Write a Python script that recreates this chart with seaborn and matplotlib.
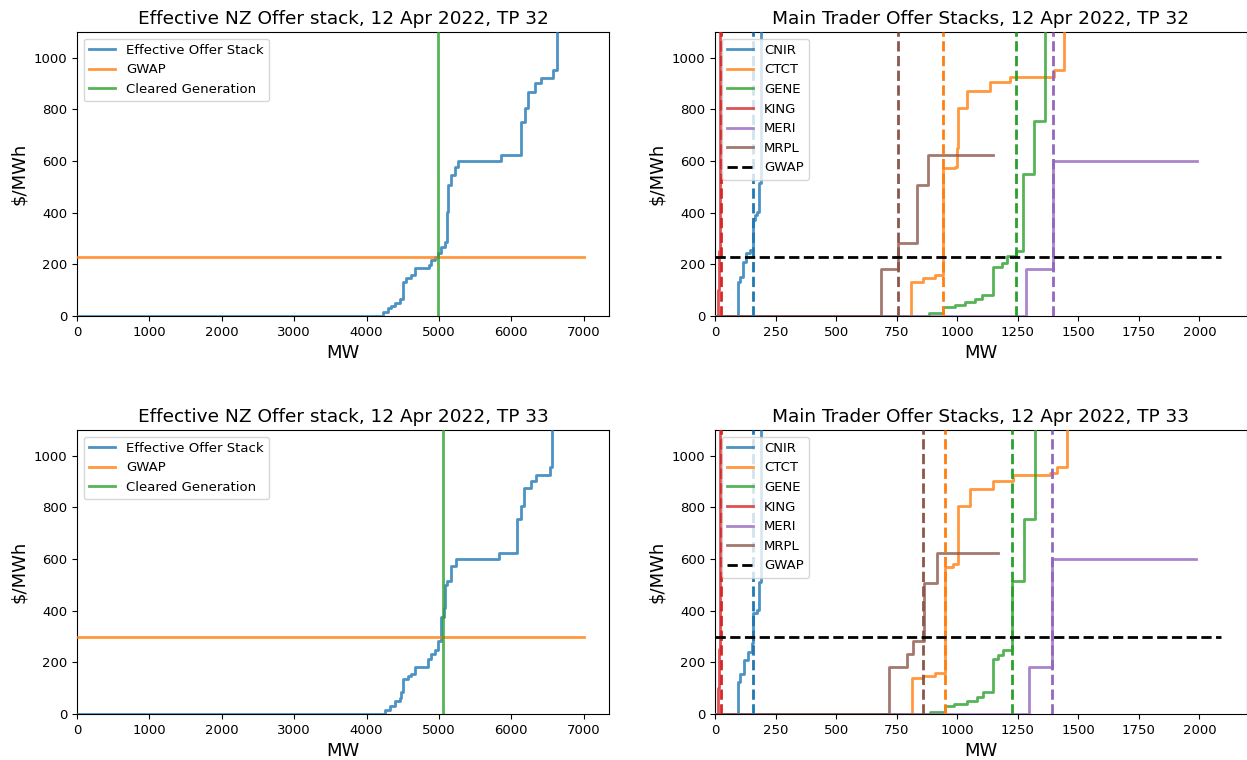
import matplotlib
matplotlib.use("Agg")
import matplotlib.pyplot as plt
import seaborn as sns
import pandas as pd

plt.rcParams['font.family'] = ['DejaVu Sans']

# ---------------- data ----------------
tp_labels = ["TP 32", "TP 33"]
date_label = "12 Apr 2022"

# effective NZ offer stack (cumulative MW where price steps, new price $/MWh)
eff32_mw = [0, 4229, 4298, 4345, 4400, 4459, 4505, 4552, 4621, 4667, 4865, 4897, 4943, 4989,
            5035, 5081, 5113, 5127, 5173, 5219, 5265, 5863, 6139, 6185, 6231, 6323, 6415, 6576, 6631]
eff32_price = [0, 15, 30, 40, 52, 65, 133, 146, 159, 185, 198, 215, 230, 243,
               269, 288, 404, 508, 547, 579, 600, 625, 753, 805, 869, 901, 921, 953, 3000]
eff33_mw = [0, 4252, 4321, 4390, 4460, 4483, 4505, 4575, 4621, 4676, 4851, 4887, 4943, 4989,
            5035, 5067, 5081, 5113, 5173, 5233, 5831, 6084, 6139, 6172, 6277, 6346, 6531, 6567]
eff33_price = [0, 15, 31, 50, 61, 87, 134, 147, 155, 181, 212, 231, 248, 284,
               377, 411, 500, 515, 574, 600, 625, 755, 806, 875, 903, 926, 955, 3000]

gwap = [230, 297]
cleared_gen = [4990, 5050]
gwap_span_nz = [0, 7000]
gwap_span_traders = [0, 2090]

traders = ["CNIR", "CTCT", "GENE", "KING", "MERI", "MRPL"]

# TP 32 trader stacks
cnir32_mw = [0, 94, 103, 117, 130, 144, 156, 166, 175, 183, 190]
cnir32_price = [0, 133, 152, 210, 243, 256, 372, 391, 404, 514, 3000]
ctct32_mw = [0, 808, 857, 909, 940, 991, 998, 1005, 1042, 1136, 1218, 1399, 1441]
ctct32_price = [0, 133, 148, 159, 572, 579, 650, 805, 873, 905, 924, 953, 3000]
gene32_mw = [0, 885, 940, 991, 1032, 1073, 1101, 1147, 1187, 1204, 1243, 1270, 1317, 1363]
gene32_price = [0, 10, 34, 43, 56, 64, 81, 189, 207, 232, 253, 550, 757, 3000]
king32_mw = [0, 12, 16, 20]
king32_price = [0, 100, 250, 3000]
meri32_mw = [0, 1284, 1397, 1990]
meri32_price = [0, 181, 600, 600]
mrpl32_mw = [0, 686, 757, 833, 881, 1149]
mrpl32_price = [0, 181, 284, 508, 625, 625]
cleared32 = [156, 940, 1243, 24, 1397, 757]

# TP 33 trader stacks
cnir33_mw = [0, 94, 103, 120, 138, 151, 158, 172, 183, 190]
cnir33_price = [0, 125, 155, 209, 242, 276, 390, 404, 513, 3000]
ctct33_mw = [0, 815, 857, 908, 950, 984, 1005, 1052, 1147, 1229, 1383, 1411, 1455]
ctct33_price = [0, 138, 147, 158, 571, 581, 806, 872, 903, 924, 933, 955, 3000]
gene33_mw = [0, 888, 950, 987, 1039, 1080, 1108, 1147, 1167, 1190, 1225, 1276, 1321]
gene33_price = [0, 8, 31, 39, 50, 64, 86, 212, 229, 248, 517, 756, 3000]
king33_mw = [0, 12, 16, 20]
king33_price = [0, 100, 250, 3000]
meri33_mw = [0, 1296, 1390, 1985]
meri33_price = [0, 181, 600, 600]
mrpl33_mw = [0, 718, 791, 819, 862, 915, 1170]
mrpl33_price = [0, 181, 232, 284, 506, 625, 625]
cleared33 = [158, 950, 1227, 24, 1390, 857]

eff = [(eff32_mw, eff32_price), (eff33_mw, eff33_price)]
stacks = [
    [(cnir32_mw, cnir32_price), (ctct32_mw, ctct32_price), (gene32_mw, gene32_price),
     (king32_mw, king32_price), (meri32_mw, meri32_price), (mrpl32_mw, mrpl32_price)],
    [(cnir33_mw, cnir33_price), (ctct33_mw, ctct33_price), (gene33_mw, gene33_price),
     (king33_mw, king33_price), (meri33_mw, meri33_price), (mrpl33_mw, mrpl33_price)],
]
cleared = [cleared32, cleared33]

# ---------------- plot ----------------
pal = sns.color_palette("tab10")
W, H = 1247, 760
fig = plt.figure(figsize=(W / 100, H / 100), dpi=100)

def px_axes(x0, y0, x1, y1):
    return fig.add_axes([x0 / W, 1 - y1 / H, (x1 - x0) / W, (y1 - y0) / H])

rows = [(32, 316), (430, 714)]
TITLE_FS = 13.3
LABEL_FS = 13
TICK_FS = 9.5
LEG_FS = 9.5

def finish(ax):
    for sp in ax.spines.values():
        sp.set_zorder(1)

for r, (ya, yb) in enumerate(rows):
    # left: effective stack
    ax = px_axes(77, ya, 609, yb)
    mw, pr = eff[r]
    sns.lineplot(x=mw, y=pr, ax=ax, drawstyle='steps-post', estimator=None, sort=False,
                 color=pal[0], alpha=0.8, lw=2, label="Effective Offer Stack")
    sns.lineplot(x=gwap_span_nz, y=[gwap[r], gwap[r]], ax=ax, estimator=None, sort=False,
                 color=pal[1], alpha=0.8, lw=2, label="GWAP")
    ax.axvline(cleared_gen[r], color=pal[2], alpha=0.8, lw=2, label="Cleared Generation")
    ax.set_xlim(0, gwap_span_nz[1] * 1.05)
    ax.set_ylim(0, 1100)
    ax.set_title(f"Effective NZ Offer stack, {date_label}, {tp_labels[r]}", fontsize=TITLE_FS)
    ax.set_xlabel("MW", fontsize=LABEL_FS)
    ax.set_ylabel("$/MWh", fontsize=LABEL_FS)
    ax.tick_params(labelsize=TICK_FS)
    ax.legend(loc="upper left", fontsize=LEG_FS)
    finish(ax)

    # right: main traders
    ax2 = px_axes(715, ya, 1246.5, yb)
    for i, (name, (mw, pr)) in enumerate(zip(traders, stacks[r])):
        sns.lineplot(x=mw, y=pr, ax=ax2, drawstyle='steps-post', estimator=None, sort=False,
                     color=pal[i], alpha=0.8, lw=2, label=name)
    for i, q in enumerate(cleared[r]):
        ax2.axvline(q, color=pal[i], ls="--", lw=2)
    ax2.plot(gwap_span_traders, [gwap[r], gwap[r]], color="black", ls="--", lw=2, label="GWAP")
    ax2.set_xlim(0, gwap_span_traders[1] * 1.05)
    ax2.set_ylim(0, 1100)
    ax2.set_title(f"Main Trader Offer Stacks, {date_label}, {tp_labels[r]}", fontsize=TITLE_FS)
    ax2.set_xlabel("MW", fontsize=LABEL_FS)
    ax2.set_ylabel("$/MWh", fontsize=LABEL_FS)
    ax2.tick_params(labelsize=TICK_FS)
    ax2.legend(loc="upper left", fontsize=LEG_FS)
    finish(ax2)

fig.savefig("out.png", dpi=100)
